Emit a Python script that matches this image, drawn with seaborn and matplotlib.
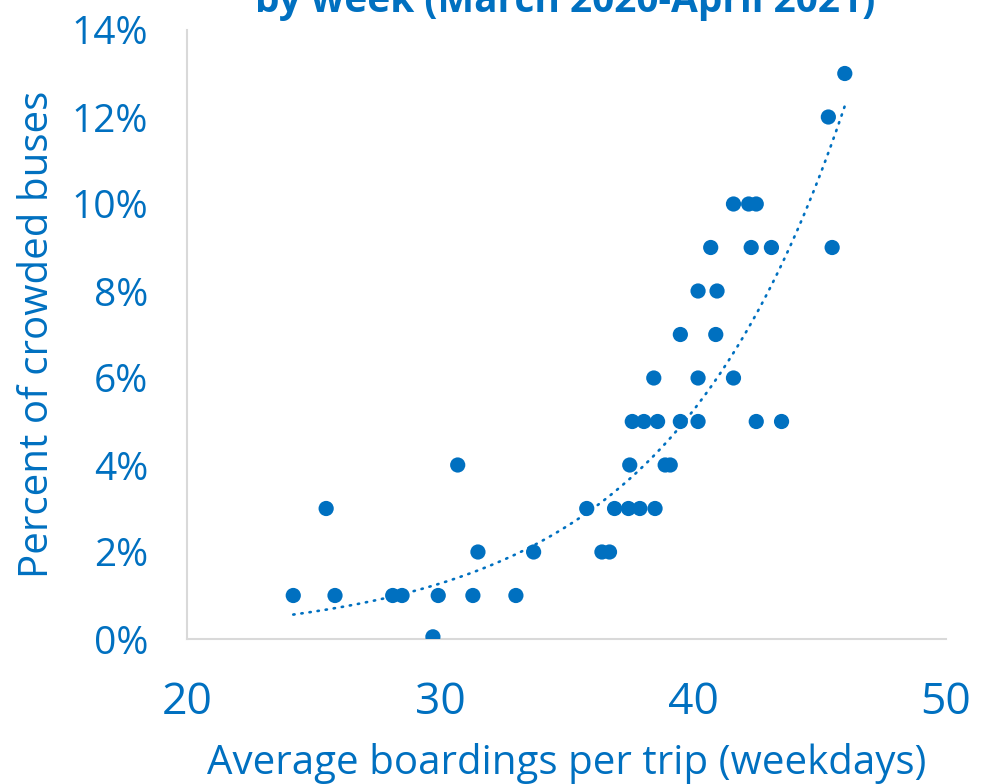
import numpy as np
import pandas as pd
import seaborn as sns
import matplotlib.pyplot as plt
from matplotlib.ticker import FuncFormatter

BLUE = "#0070C0"
GRAY = "#D9D9D9"

# weekly points
boardings = [24.2, 25.5, 25.85, 28.13, 28.5, 29.72, 29.93, 30.7, 31.3, 31.5,
             33.0, 33.7, 35.8, 36.4, 36.7, 36.9, 37.45, 37.9, 38.5, 37.5,
             38.9, 39.1, 37.6, 38.06, 38.6, 39.5, 40.2, 42.5, 43.5, 38.45,
             40.2, 41.6, 39.5, 40.9, 40.2, 40.95, 40.7, 42.3, 43.1, 45.5,
             41.6, 42.2, 42.5, 45.35, 46.0]
crowded_pct = [1, 3, 1, 1, 1, 0.05, 1, 4, 1, 2,
               1, 2, 3, 2, 2, 3, 3, 3, 3, 4,
               4, 4, 5, 5, 5, 5, 5, 5, 5, 6,
               6, 6, 7, 7, 8, 8, 9, 9, 9, 9,
               10, 10, 10, 12, 13]

df = pd.DataFrame({"boardings": boardings, "crowded": crowded_pct})

# exponential trendline (same as Excel: least squares on log y)
b, ln_a = np.polyfit(df["boardings"], np.log(df["crowded"]), 1)
trend_x = np.linspace(df["boardings"].min(), df["boardings"].max(), 200)
trend_y = np.exp(ln_a) * np.exp(b * trend_x)

sns.set_theme(style="white")
plt.rcParams["font.family"] = ["Open Sans", "DejaVu Sans"]

fig = plt.figure(figsize=(9.9, 7.84), dpi=100)
ax = fig.add_axes([187 / 990, 1 - 639 / 784, (946 - 187) / 990, (639 - 30) / 784])

sns.scatterplot(data=df, x="boardings", y="crowded", ax=ax, color=BLUE,
                s=120, edgecolor="none", zorder=3)
ax.plot(trend_x, trend_y, color=BLUE, lw=1.9, linestyle=(0, (0.5, 2.6)),
        dash_capstyle="round", zorder=2)

ax.set_xlim(20, 50)
ax.set_ylim(0, 14)
ax.set_xticks([20, 30, 40, 50])
ax.set_yticks(range(0, 15, 2))
ax.yaxis.set_major_formatter(FuncFormatter(lambda v, p: f"{v:.0f}%"))

ax.tick_params(axis="x", length=0, pad=30, labelsize=32, labelcolor=BLUE)
ax.tick_params(axis="y", length=0, pad=28, labelsize=28, labelcolor=BLUE)
for lab in ax.get_yticklabels():
    lab.set_fontweight("medium")

ax.set_xlabel("Average boardings per trip (weekdays)", fontsize=29, color=BLUE)
ax.set_ylabel("Percent of crowded buses", fontsize=29, color=BLUE)
ax.xaxis.set_label_coords(0.5, -0.205)
ax.yaxis.set_label_coords(-0.196, 0.5)
ax.xaxis.label.set_va("center")
ax.yaxis.label.set_va("center")

for side in ["top", "right"]:
    ax.spines[side].set_visible(False)
for side in ["left", "bottom"]:
    ax.spines[side].set_color(GRAY)
    ax.spines[side].set_linewidth(1.5)

# title sits mostly above the visible canvas
fig.text(565 / 990, 1 - 12 / 784, "by week (March 2020-April 2021)",
         ha="center", va="baseline", fontsize=28, fontweight="bold", color=BLUE)

fig.savefig("out.png", dpi=100)
